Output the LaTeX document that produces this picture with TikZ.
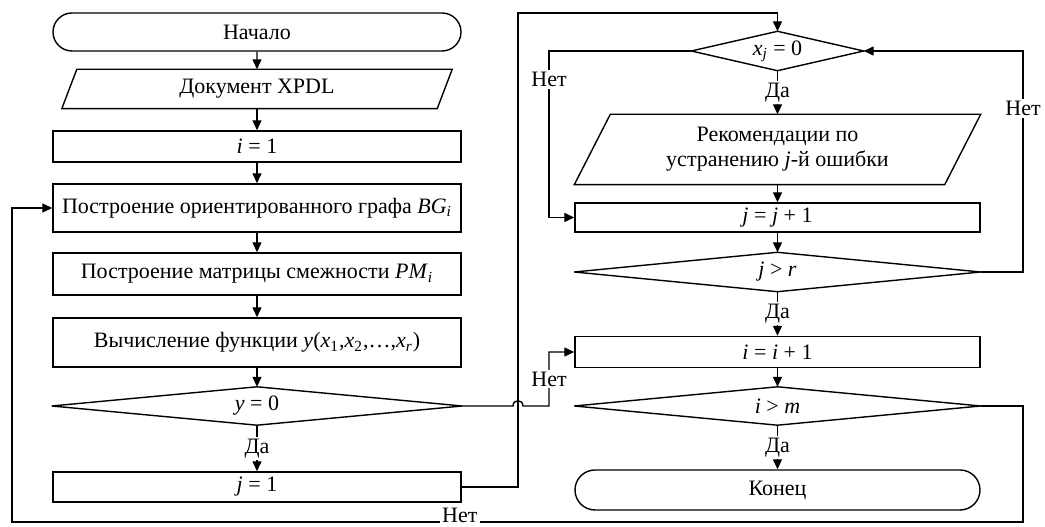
\documentclass[tikz,border=0pt]{standalone}
\usepackage{fontspec}
\setmainfont{Liberation Serif}
\usetikzlibrary{arrows.meta,shapes.misc}
\newcommand{\iv}[1]{\textit{#1}}
\begin{document}
\begin{tikzpicture}[x=0.5bp,y=-0.5bp,line width=0.7bp,
  font=\fontsize{11bp}{12.5bp}\selectfont,
  >={Triangle[length=5bp,width=4.5bp]},
  blk/.style={draw,rectangle,minimum width=204bp,inner sep=0pt},
  term/.style={draw,rounded rectangle,minimum width=204bp,minimum height=19bp,inner sep=0pt},
  frame/.style={rectangle,inner sep=0pt},
  lbl/.style={fill=white,inner sep=1bp}]
\useasboundingbox (0,0) rectangle (1045,527);

% left column
\node[term] (start) at (257,32) {Начало};
\node[frame,minimum width=194.5bp,minimum height=19bp] (doc) at (257,89) {Документ XPDL};
\node[blk,minimum height=15.5bp] (i1) at (257,146.5) {\iv{i} = 1};
\node[blk,minimum height=24bp] (bg) at (257,208) {Построение ориентированного графа \iv{BG}\textsubscript{\iv{i}}};
\node[blk,minimum height=21bp] (pm) at (257,274) {Построение матрицы смежности \iv{PM}\textsubscript{\iv{i}}};
\node[blk,minimum height=24.5bp] (yf) at (257,342.5) {Вычисление функции \iv{y}(\iv{x}\textsubscript{1},\iv{x}\textsubscript{2},…,\iv{x}\textsubscript{\iv{r}})};
\node[frame,minimum width=204.5bp,minimum height=18.5bp] (d1) at (257,406) {\iv{y} = 0};
\node[blk,minimum height=15bp] (j1) at (257,487) {\iv{j} = 1};

% right column
\node[frame,minimum width=85.5bp,minimum height=19bp] (dx) at (777.5,51) {\iv{x}\textsubscript{\iv{j}} = 0};
\node[frame,minimum width=202.5bp,minimum height=34.5bp,align=center] (rec) at (777.5,149.5) {Рекомендации по\\устранению \iv{j}-й ошибки};
\node[blk,minimum width=202.5bp,minimum height=14.5bp] (jinc) at (777.5,217.5) {\iv{j} = \iv{j} + 1};
\node[frame,minimum width=202.5bp,minimum height=19bp] (dr) at (777.5,272) {\iv{j} > \iv{r}};
\node[blk,minimum width=202.5bp,minimum height=15.5bp] (iinc) at (777.5,352) {\iv{i} = \iv{i} + 1};
\node[frame,minimum width=202.5bp,minimum height=18.5bp] (dm) at (777.5,406) {\iv{i} > \iv{m}};
\node[term,minimum width=202.5bp,minimum height=20bp] (end) at (777.5,490) {Конец};

% data (parallelogram) outlines
\draw (doc.south west) -- ([xshift=7.5bp]doc.north west) -- (doc.north east) -- ([xshift=-7.5bp]doc.south east) -- cycle;
\draw (rec.south west) -- ([xshift=18bp]rec.north west) -- (rec.north east) -- ([xshift=-18bp]rec.south east) -- cycle;

% decision outlines
\foreach \d in {d1,dx,dr,dm}
  \draw (\d.west) -- (\d.north) -- (\d.east) -- (\d.south) -- cycle;

% routing points
\coordinate (ja) at (518,13);
\coordinate (h1) at (513,406);
\coordinate (h2) at (523,406);
\coordinate (na) at (549,406);
\coordinate (nb) at (549,352);
\coordinate (xa) at (549,51);
\coordinate (xb) at (549,217.5);
\coordinate (ra) at (1023,272);
\coordinate (rb) at (1023,51);
\coordinate (ma) at (1023,406);
\coordinate (mb) at (1023,522);
\coordinate (mc) at (12,522);
\coordinate (md) at (12,208);

% main flow
\draw[->] (start) -- (doc);
\draw[->] (doc) -- (i1);
\draw[->] (i1) -- (bg);
\draw[->] (bg) -- (pm);
\draw[->] (pm) -- (yf);
\draw[->] (yf) -- (d1);
\draw[->] (d1.south) -- node[lbl]{Да} (j1.north);
\draw[->] (j1.east) -| (ja) -| (dx.north);
\draw[->] (d1.east) -- (h1) .. controls (513,399) and (523,399) .. (h2) -- (na) -- node[lbl]{Нет} (nb) -- (iinc.west);

% inner loop
\draw[->] (dx.south) -- node[lbl]{Да} (rec.north);
\draw[->] (dx.west) -- (xa) -- node[lbl,pos=0.17]{Нет} (xb) -- (jinc.west);
\draw[->] (rec.south) -- (jinc.north);
\draw[->] (jinc) -- (dr);
\draw[->] (dr.east) -- (ra) -- node[lbl,pos=0.74]{Нет} (rb) -- (dx.east);
\draw[->] (dr.south) -- node[lbl]{Да} (iinc.north);

% outer loop
\draw[->] (iinc) -- (dm);
\draw[->] (dm.south) -- node[lbl]{Да} (end.north);
\draw[->] (dm.east) -- (ma) -- (mb) -- node[fill=white,inner xsep=1bp,inner ysep=0pt,anchor=base,yshift=-0.5bp,pos=0.557]{Нет} (mc) -- (md) -- (bg.west);
\end{tikzpicture}
\end{document}
